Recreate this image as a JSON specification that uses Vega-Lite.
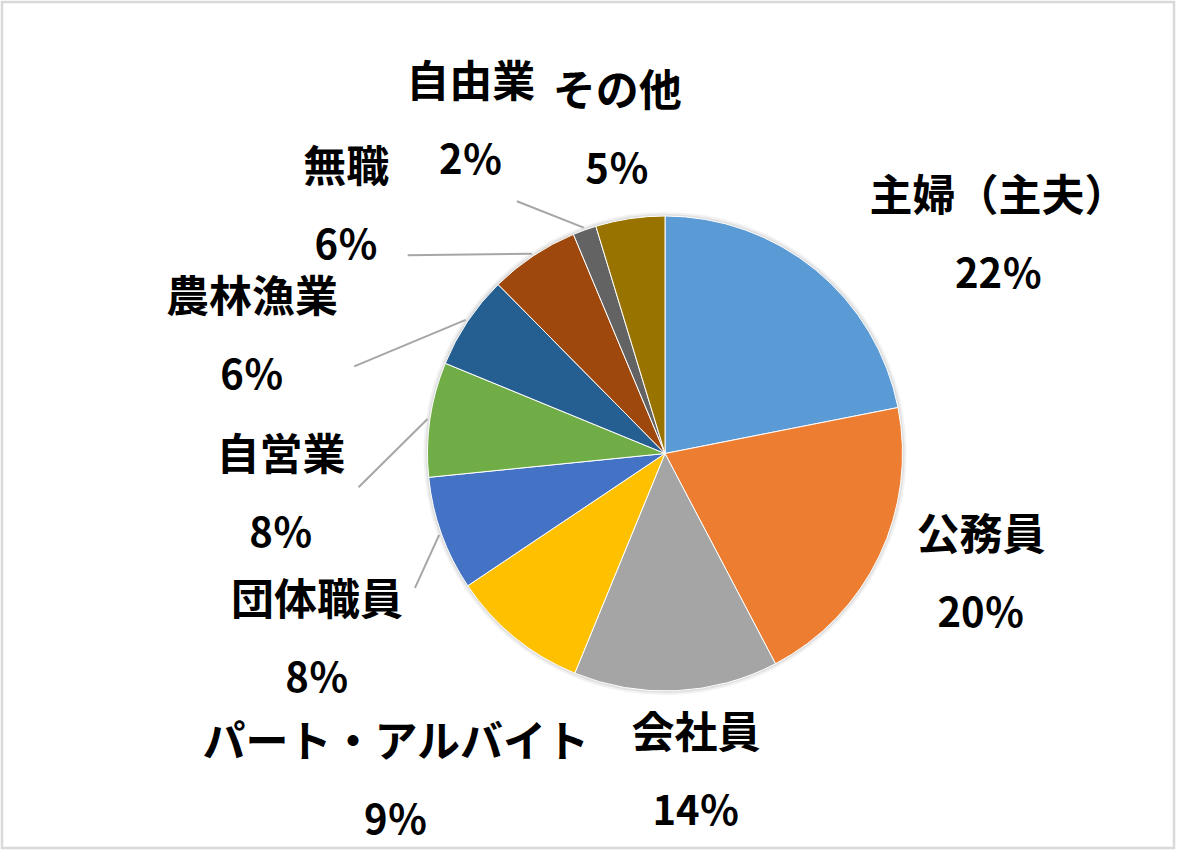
{
  "$schema": "https://vega.github.io/schema/vega-lite/v6.json",
  "width": 1172,
  "height": 846,
  "autosize": "none",
  "padding": {"left": 2, "top": 2, "right": 3, "bottom": 3},
  "background": "white",
  "config": {"view": {"stroke": "#D9D9D9", "strokeWidth": 2.5}},
  "data": {
    "values": [
      {"job": "主婦（主夫）", "pct": 21.9, "label": "22％", "order": 1},
      {"job": "公務員", "pct": 20.4, "label": "20％", "order": 2},
      {"job": "会社員", "pct": 13.9, "label": "14％", "order": 3},
      {"job": "パート・アルバイト", "pct": 9.4, "label": "9％", "order": 4},
      {"job": "団体職員", "pct": 7.8, "label": "8％", "order": 5},
      {"job": "自営業", "pct": 7.8, "label": "8％", "order": 6},
      {"job": "農林漁業", "pct": 6.4, "label": "6％", "order": 7},
      {"job": "無職", "pct": 6.1, "label": "6％", "order": 8},
      {"job": "自由業", "pct": 1.6, "label": "2％", "order": 9},
      {"job": "その他", "pct": 4.7, "label": "5％", "order": 10}
    ]
  },
  "transform": [
    {"stack": "pct", "groupby": [], "sort": [{"field": "order", "order": "ascending"}], "as": ["p0", "p1"]},
    {"calculate": "(datum.p0 + datum.p1) / 2", "as": "mid"},
    {"calculate": "2 * PI * datum.mid / 100", "as": "tm"},
    {"calculate": "datum.mid + (sin(datum.tm) > 0 ? 8.33 * sin(2 * datum.tm) * pow(cos(datum.tm), 2) : 0)", "as": "pre"},
    {"window": [{"op": "row_number", "as": "k"}], "sort": [{"field": "order", "order": "descending"}]},
    {"calculate": "datum.pre + datum.k * 6.1", "as": "a"},
    {"window": [{"op": "min", "field": "a", "as": "amin"}], "sort": [{"field": "order", "order": "descending"}], "frame": [null, 0]},
    {"calculate": "datum.amin - datum.k * 6.1", "as": "lp"},
    {"calculate": "2 * PI * datum.lp / 100", "as": "t"},
    {"calculate": "14.4 * (datum.pre - datum.lp)", "as": "extra"},
    {"calculate": "257.5 + abs(sin(datum.t)) * length(datum.job) * 21.5 + abs(cos(datum.t)) * 59 + datum.extra", "as": "lr"},
    {"calculate": "sin(datum.tm) * 240", "as": "lx1"},
    {"calculate": "cos(datum.tm) * 240", "as": "ly1"},
    {"calculate": "sin(datum.t) * (250 + datum.extra)", "as": "lx2"},
    {"calculate": "cos(datum.t) * (250 + datum.extra)", "as": "ly2"}
  ],
  "layer": [
    {
      "mark": {"type": "arc", "radius": 241.5, "color": "#000000", "opacity": 0.05},
      "encoding": {
        "x": {"datum": 0, "type": "quantitative", "scale": {"domain": [-663, 509], "nice": false, "zero": false}, "axis": null},
        "y": {"datum": 0, "type": "quantitative", "scale": {"domain": [-394.5, 451.5], "nice": false, "zero": false}, "axis": null},
        "theta": {"field": "p0", "type": "quantitative", "scale": {"domain": [0, 100]}},
        "theta2": {"field": "p1"}
      }
    },
    {
      "mark": {"type": "arc", "radius": 239.5, "color": "#000000", "opacity": 0.07},
      "encoding": {
        "x": {"datum": 0, "type": "quantitative"},
        "y": {"datum": 0, "type": "quantitative"},
        "theta": {"field": "p0", "type": "quantitative"},
        "theta2": {"field": "p1"}
      }
    },
    {
      "mark": {"type": "arc", "radius": 237.5, "stroke": "white", "strokeWidth": 1},
      "encoding": {
        "x": {"datum": 0, "type": "quantitative"},
        "y": {"datum": 0, "type": "quantitative"},
        "theta": {"field": "p0", "type": "quantitative"},
        "theta2": {"field": "p1"},
        "color": {
          "field": "job",
          "type": "nominal",
          "scale": {
            "domain": ["主婦（主夫）", "公務員", "会社員", "パート・アルバイト", "団体職員", "自営業", "農林漁業", "無職", "自由業", "その他"],
            "range": ["#5B9BD5", "#ED7D31", "#A5A5A5", "#FFC000", "#4472C4", "#70AD47", "#255E91", "#9E480E", "#636363", "#997300"]
          },
          "legend": null
        }
      }
    },
    {
      "transform": [{"filter": "datum.pre - datum.lp > 0.5"}],
      "mark": {"type": "rule", "color": "#A6A6A6", "strokeWidth": 2},
      "encoding": {
        "x": {"field": "lx1", "type": "quantitative"},
        "y": {"field": "ly1", "type": "quantitative"},
        "x2": {"field": "lx2"},
        "y2": {"field": "ly2"}
      }
    },
    {
      "mark": {"type": "text", "font": "Noto Sans CJK JP", "fontSize": 43, "fontWeight": "bold", "color": "#000000", "align": "center", "baseline": "middle", "dy": -39},
      "encoding": {
        "x": {"datum": 0, "type": "quantitative"},
        "y": {"datum": 0, "type": "quantitative"},
        "theta": {"field": "lp", "type": "quantitative"},
        "radius": {"field": "lr", "type": "quantitative", "scale": null},
        "text": {"field": "job"}
      }
    },
    {
      "mark": {"type": "text", "font": "Noto Sans CJK JP", "fontSize": 40, "fontWeight": "bold", "color": "#000000", "align": "center", "baseline": "middle", "dy": 39},
      "encoding": {
        "x": {"datum": 0, "type": "quantitative"},
        "y": {"datum": 0, "type": "quantitative"},
        "theta": {"field": "lp", "type": "quantitative"},
        "radius": {"field": "lr", "type": "quantitative", "scale": null},
        "text": {"field": "label"}
      }
    }
  ]
}
